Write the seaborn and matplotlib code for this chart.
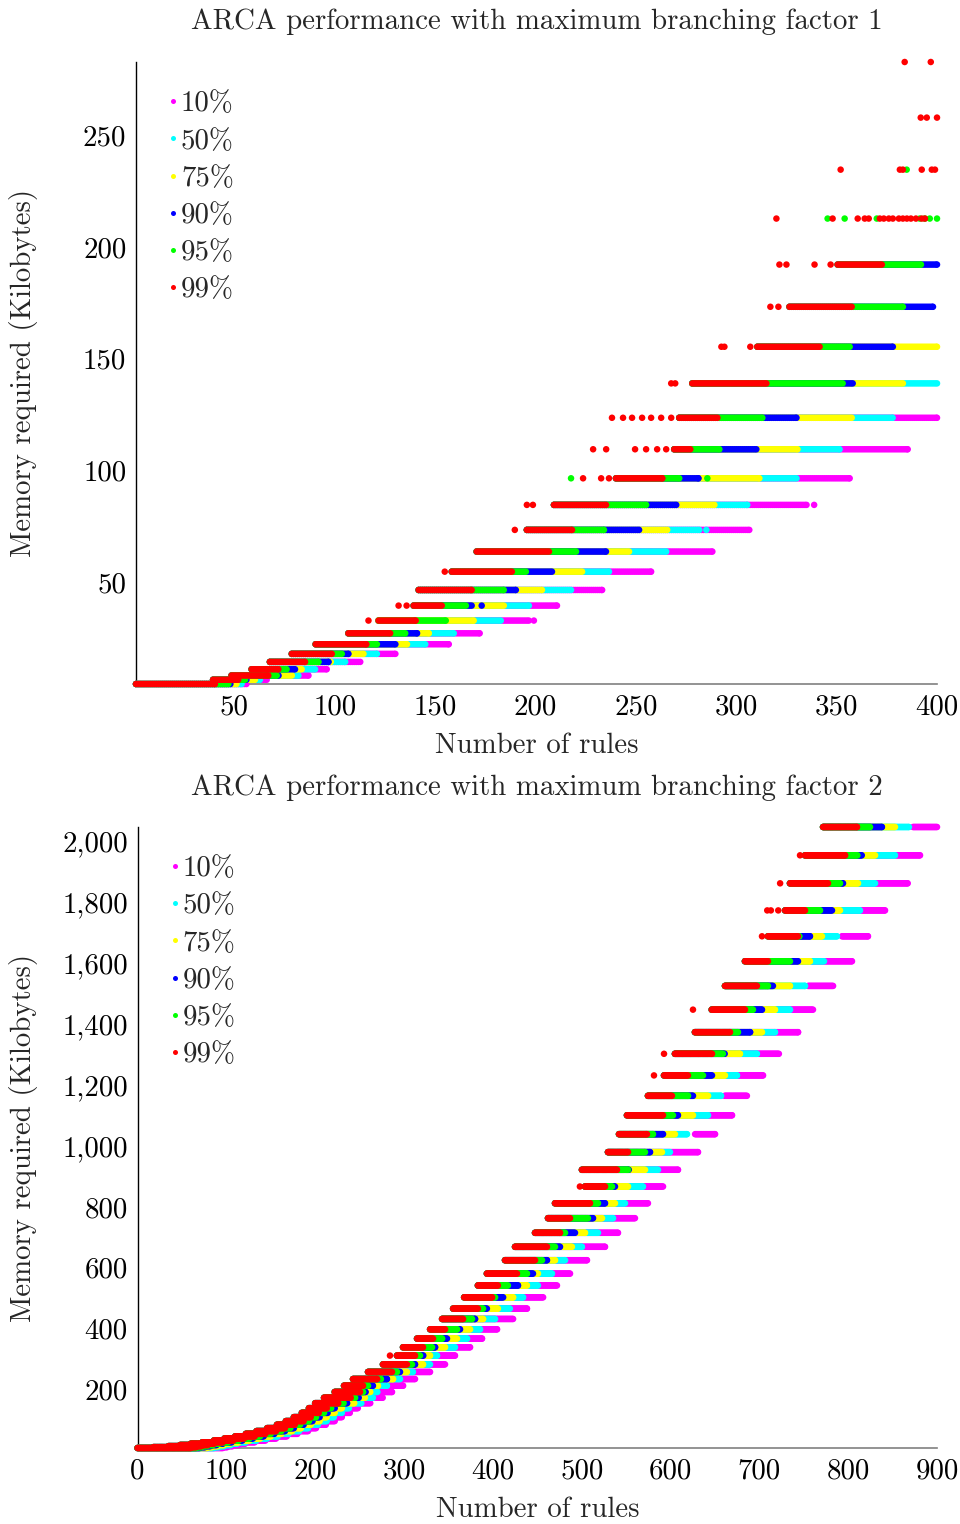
import numpy as np
import pandas as pd
import matplotlib
matplotlib.use("Agg")
import matplotlib.pyplot as plt
import seaborn as sns
from matplotlib.lines import Line2D
from matplotlib.ticker import FuncFormatter, FixedLocator

nan = np.nan

# ---------------------------------------------------------------- data
SERIES = ["10%", "50%", "75%", "90%", "95%", "99%"]
COLORS = ["#ff00ff", "#00ffff", "#ffff00", "#0000ff", "#00ff00", "#ff0000"]

# memory levels (Kilobytes) shared by both charts
LEVELS = [4.3, 6.2, 8.1, 10.9, 14.2, 17.8, 22.1, 27.0, 32.7, 39.4, 46.4, 54.6,
          63.6, 73.3, 84.5, 96.4, 109.4, 123.5, 138.9, 155.3, 173.2, 192.1,
          212.7, 234.6, 257.9, 282.8, 311.7, 339, 367.5, 398, 432, 466, 503,
          542, 581, 625, 669, 715, 763, 812, 867, 922, 980, 1039, 1101, 1165,
          1232, 1303, 1374, 1448, 1526, 1607, 1689, 1774, 1863, 1955, 2048]

# ---- chart 1 (branching factor 1): levels LEVELS[0:26]
# first rule count of the dense run at each level, and last rule count per percentile
TOP_START = [1, 39.4, 48.6, 58.6, 67.7, 78.6, 90.5, 106.8, 121.8, 139.3, 141.8, 158.3,
             170.7, 195.7, 209.2, 240.1, 269.1, 271.6, 278.1, 310.5, 326.5, 350.5,
             nan, nan, nan, nan]
TOP_END_99 = [40.3, 51.9, 66.9, 71.9, 85.2, 98.5, 115.7, 127.6, 140.3, 153.3, 168.2, 188.2,
              206.7, 218.2, 235.1, 263.1, 277.1, 290.6, 315, 341.5, 357.5, 372.5,
              nan, nan, nan, nan]
TOP_END_95 = [47, 55.3, 71.1, 76, 91.9, 103.5, 121, 135.1, 155.3, 165.3, 184.2, 195.2,
              220.2, 234.1, 255.1, 271.6, 291.6, 313, 353, 356.5, 383, 392,
              nan, nan, nan, nan]
TOP_END_90 = [48, 56, 72, 80.2, 96.9, 106.8, 130.2, 141, nan, 168.2, 190.2, 208.2,
              235.1, 251.6, 270.1, 281.1, 310, 330, 358, 378, 398, 400,
              nan, nan, nan, nan]
TOP_END_75 = [51, 60.2, 78.6, 83.5, 98, 114.3, 136, 146.8, 169.2, 184.2, 203.2, 223.2,
              246.6, 265.6, 289.1, 311.5, 330.5, 357.5, 383, 400, nan, nan,
              nan, nan, nan, nan]
TOP_END_50 = [53.6, 62.7, 81.9, 90.2, 105.2, 121, 145.1, 159.3, 182.7, 196.7, 217.7, 236.6,
              265.1, 281.6, 305.5, 330, 351.5, 377.9, 400, nan, nan, nan,
              nan, nan, nan, nan]
TOP_END_10 = [56, 66.1, 86.9, 96, 112.7, 130.2, 156.8, 172.2, 196.7, 210.7, 233.2, 257.6,
              288.1, 306.5, 335, 356.5, 385.4, 400, nan, nan, nan, nan,
              nan, nan, nan, nan]
# isolated points (level, rules)
TOP_ISO_99 = [(32.7, 116.8), (39.4, 131.8), (39.4, 135.8), (54.6, 154.8), (73.3, 189.7),
              (84.5, 195.7), (84.5, 198.7), (96.4, 223.7), (96.4, 232.7), (96.4, 236.6),
              (109.4, 228.7), (109.4, 235.2), (109.4, 249.6), (109.4, 255.1), (109.4, 260.6),
              (109.4, 265.1), (123.5, 238.1), (123.5, 243.6), (123.5, 248.1), (123.5, 253.1),
              (123.5, 257.6), (123.5, 262.6), (123.5, 267.6), (138.9, 267.6), (138.9, 269.6),
              (155.3, 292.6), (155.3, 294.1), (155.3, 307), (173.2, 317), (173.2, 321),
              (192.1, 321.5), (192.1, 325), (192.1, 339), (192.1, 347),
              (212.7, 320), (212.7, 348), (212.7, 360.5), (212.7, 364), (212.7, 366),
              (212.7, 371.5), (212.7, 373.5), (212.7, 376), (212.7, 378), (212.7, 381),
              (212.7, 383), (212.7, 385), (212.7, 387), (212.7, 389.5), (212.7, 392.4),
              (212.7, 394), (234.6, 352), (234.6, 381.5), (234.6, 383), (234.6, 392.4),
              (234.6, 397.4), (234.6, 399), (257.9, 391.9), (257.9, 394.9), (257.9, 400),
              (282.8, 383.9), (282.8, 396.9)]
TOP_ISO_95 = [(96.4, 217.7), (96.4, 285.6), (212.7, 345.5), (212.7, 354), (212.7, 370),
              (212.7, 391.4), (212.7, 393.9), (212.7, 396.4), (212.7, 400), (234.6, 384.9)]
TOP_ISO_90 = [(39.4, 173.2)]
TOP_ISO_75 = []
TOP_ISO_50 = [(73.3, 285.1)]
TOP_ISO_10 = [(32.7, 199.2), (84.5, 338.8)]

# ---- chart 2 (branching factor 2): levels LEVELS[2:]
BOT_START = [0, 18, 35, 48, 60, 73, 86, 98, 110, 122, 134, 146, 157, 167, 176, 185, 193,
             200, 210, 222, 232.5, 242.6, 259.5, 276.3, 292.1, 298.9, 314.7, 329.4,
             342.9, 355.3, 367.7, 383.2, 393.3, 413.7, 425, 447.5, 462.1, 470, 503.7,
             500.3, 529.6, 542, 551, 574.6, 592.7, 605, 627.5, 646.4, 661.3, 683.8,
             709.7, 729, 734.5, 751.4, 771.7]
BOT_END_99 = [60, 66, 72, 79, 86, 96, 108, 120, 132, 144, 156, 166, 177, 187, 195, 204, 213,
              226, 240, 250.5, 253.9, 269.6, 286.5, 303.3, 312.4, 321.4, 332.7, 346.2,
              366.5, 383.2, 399.2, 405.7, 427.2, 447.5, 461, 475.6, 486.9, 509.4, 526.3,
              539.7, 552.2, 573.5, 591.6, 601.6, 619.7, 646.7, 667, 683.8, 697.3, 709.7,
              743.5, 751.4, 777.3, 796.5, 810]
BOT_END_95 = [66, 72, 78, 85, 92, 102, 114, 126, 138, 150, 162, 172, 183, 193, 201, 210, 218,
              232, 245, 254, 259.5, 274, 292.1, 309, 318, 331.6, 342.9, 359.7, 376.6, 389,
              402.6, 417, 438.4, 455.4, 470, 481.3, 507.1, 518.4, 534.2, 552.2, 571.3,
              580.3, 602.8, 619.7, 636.6, 659, 676, 692.8, 709.7, 734.5, 745, 768.3,
              790.8, 810.4, 824.6]
BOT_END_90 = [70, 76, 82, 89, 96, 106, 118, 130, 142, 154, 166, 176, 187, 197, 205, 214, 222,
              236, 249, 256.8, 265, 280.8, 295.5, 312.4, 321.7, 335, 348.4, 363.1, 380,
              393.3, 411.6, 428.3, 445.2, 461, 475.6, 492.5, 512.8, 526.3, 537.5, 553, 577,
              591.6, 608.4, 625.3, 646.7, 661, 689.6, 703, 715.3, 743.5, 757, 781.8, 794.2,
              815.3, 838]
BOT_END_75 = [78, 84, 90, 97, 104, 114, 126, 138, 150, 162, 174, 184, 195, 205, 213, 222, 230,
              244, 256, 262, 270.7, 287.6, 303.3, 321.4, 329.3, 346.2, 359.7, 374.4, 389,
              405.7, 422.8, 438.4, 450.8, 470, 489, 503.8, 522.9, 537.5, 552.2, 571.3,
              590.4, 605, 625.3, 642.3, 661.3, 678.2, 703, 717.6, 734.5, 757, 770.5, 790.8,
              811.1, 830.3, 852.7]
BOT_END_50 = [86, 92, 98, 105, 112, 122, 134, 146, 158, 170, 182, 192, 203, 213, 221, 230, 238,
              252, 265, 270, 280.8, 295.5, 310, 329.3, 337.2, 357.4, 371, 385.6, 402.5,
              419.2, 434.1, 450.8, 466.6, 481.3, 500.3, 518.4, 535.3, 548.8, 569, 585.9,
              599.4, 618.6, 642.3, 656.9, 674.9, 697.3, 717.6, 734.5, 751.4, 772.8, 787.4,
              813.3, 830.3, 852.7, 868.4]
BOT_END_10 = [96, 101, 107, 114, 121, 132, 144, 156, 168, 180, 192, 201, 212, 222, 230, 239,
              248, 262, 276, 286.5, 299, 312.4, 329.3, 346.2, 357.4, 374.4, 387.8, 404.8,
              422.8, 438.4, 456.6, 472.2, 486.9, 506, 526.3, 540.9, 560, 574.6, 591.6,
              608.4, 631, 650.2, 669.3, 686, 704.2, 722, 743.6, 760.4, 783, 804.3, 822.3,
              841.5, 867, 880.9, 900]
# levels where the 10% run starts after a visible gap (level, first rule count)
BOT_GAP_10 = [(1039, 627.7), (1165, 661), (1526, 755), (1689, 793), (2048, 873)]
BOT_ISO_99 = [(311.7, 284.2), (867, 498), (1232, 581.4), (1303, 592.7), (1448, 625.3),
              (1689, 703), (1774, 708.9), (1774, 713), (1774, 721.3), (1863, 723.4),
              (1955, 745.8)]


def build(levels, start, ends, isos, gaps=None):
    gaps = dict(gaps or [])
    parts = []
    for name in SERIES:
        xs, ys = [], []
        for lv, st, en in zip(levels, start, ends[name]):
            if np.isnan(st) or np.isnan(en):
                continue
            if name == "10%" and lv in gaps:
                st = gaps[lv]
            run = np.arange(st, en, 1.0).tolist() + [en]
            xs += run
            ys += [lv] * len(run)
        for lv, x in isos.get(name, []):
            xs.append(x)
            ys.append(lv)
        parts.append(pd.DataFrame({"rules": xs, "memory": ys, "series": name}))
    return pd.concat(parts, ignore_index=True)


top_df = build(LEVELS[:26], TOP_START,
               {"99%": TOP_END_99, "95%": TOP_END_95, "90%": TOP_END_90,
                "75%": TOP_END_75, "50%": TOP_END_50, "10%": TOP_END_10},
               {"99%": TOP_ISO_99, "95%": TOP_ISO_95, "90%": TOP_ISO_90,
                "75%": TOP_ISO_75, "50%": TOP_ISO_50, "10%": TOP_ISO_10})
bot_df = build(LEVELS[2:], BOT_START,
               {"99%": BOT_END_99, "95%": BOT_END_95, "90%": BOT_END_90,
                "75%": BOT_END_75, "50%": BOT_END_50, "10%": BOT_END_10},
               {"99%": BOT_ISO_99}, BOT_GAP_10)

# ---------------------------------------------------------------- style
sns.set_style("white")
plt.rcParams["font.family"] = ["cmr10", "DejaVu Serif"]
plt.rcParams["axes.formatter.use_mathtext"] = True
plt.rcParams["mathtext.fontset"] = "cm"
FS = 20.8

W, H = 960, 1524
fig = plt.figure(figsize=(W / 100, H / 100), dpi=100)


def axes_px(l, t, r, b):
    return fig.add_axes([l / W, 1 - b / H, (r - l) / W, (b - t) / H])


ax1 = axes_px(136, 62, 937, 684)
ax2 = axes_px(137.5, 827, 937, 1448)


def draw(ax, df, xlim, ylim, xticks, yticks, yfmt, title, title_y):
    sns.scatterplot(data=df, x="rules", y="memory", hue="series", hue_order=SERIES,
                    palette=COLORS, s=22, linewidth=0, legend=False, ax=ax,
                    clip_on=False, zorder=3)
    ax.set_xlim(*xlim)
    ax.set_ylim(*ylim)
    ax.xaxis.set_major_locator(FixedLocator(xticks))
    ax.yaxis.set_major_locator(FixedLocator(yticks))
    ax.yaxis.set_major_formatter(FuncFormatter(yfmt))
    ax.xaxis.set_major_formatter(FuncFormatter(lambda v, p: f"{v:.0f}"))
    for s in ["top", "right"]:
        ax.spines[s].set_visible(False)
    ax.spines["left"].set_color("black")
    ax.spines["left"].set_linewidth(1.0)
    ax.spines["bottom"].set_color("#808080")
    ax.spines["bottom"].set_linewidth(1.2)
    ax.tick_params(axis="both", direction="in", length=8, width=0.9, color="#a0a0a0",
                   labelsize=FS, labelcolor="black", pad=7)
    ax.set_xlabel("Number of rules", fontsize=FS)
    ax.set_ylabel("Memory required (Kilobytes)", fontsize=FS)
    ax.xaxis.label.set_va("center")
    ax.yaxis.label.set_va("center")
    bb = ax.get_position()
    axh = bb.height * H
    axw = bb.width * W
    ax.xaxis.set_label_coords(0.5, -62 / axh)
    ax.yaxis.set_label_coords(-(bb.x0 * W - 24) / axw, 0.5)
    ax.grid(False)
    handles = [Line2D([], [], marker="o", linestyle="none", markersize=3.6,
                      markerfacecolor=c, markeredgewidth=0) for c in COLORS]
    ax.legend(handles, SERIES, loc="upper left", bbox_to_anchor=(0.041, 0.953),
              frameon=False, fontsize=FS, handlelength=0.3, handletextpad=0.12,
              labelspacing=0.37, borderaxespad=0, borderpad=0)
    fig.text((136 + 937) / 2 / W, 1 - title_y / H, title, ha="center", va="center",
             fontsize=FS)


draw(ax1, top_df, (1, 400), (LEVELS[0], LEVELS[25]),
     [50, 100, 150, 200, 250, 300, 350, 400], [50, 100, 150, 200, 250],
     lambda v, p: f"{v:.0f}", "ARCA performance with maximum branching factor 1", 22)
draw(ax2, bot_df, (0, 900), (LEVELS[2], LEVELS[-1]),
     list(range(0, 901, 100)), list(range(200, 2001, 200)),
     lambda v, p: f"{v:,.0f}", "ARCA performance with maximum branching factor 2", 788)

fig.savefig("out.png", dpi=100)
